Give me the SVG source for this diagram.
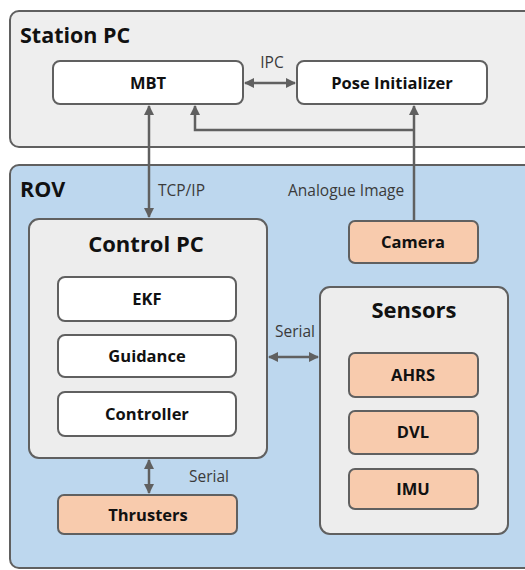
<svg xmlns="http://www.w3.org/2000/svg" width="525" height="570" viewBox="0 0 525 570">
<style>
.grp{stroke:#606060;stroke-width:2}
.box{stroke:#606060;stroke-width:2}
.white{fill:#ffffff}
.gray{fill:#ededed}
.orange{fill:#f8cbad}
.lbl{font-family:"Open Sans","Liberation Sans",sans-serif;font-weight:bold;font-size:16.5px;fill:#111;text-anchor:middle}
.title{font-family:"Open Sans","Liberation Sans",sans-serif;font-weight:bold;font-size:21.5px;fill:#111}
.ctitle{font-family:"Open Sans","Liberation Sans",sans-serif;font-weight:bold;font-size:22px;fill:#111;text-anchor:middle}
.edge{font-family:"Open Sans","Liberation Sans",sans-serif;font-size:15.5px;fill:#3a3a3a}
.conn{stroke:#606060;stroke-width:2.5;fill:none}
</style>
<defs>
<marker id="ah" viewBox="0 0 10 10" refX="9" refY="5" markerWidth="4" markerHeight="4" orient="auto-start-reverse">
<path d="M0,0 L10,5 L0,10 z" fill="#606060"/>
</marker>
</defs>
<g id="station-pc">
<rect class="grp" x="10" y="11" width="530" height="136" rx="9" fill="#eeeeee"/>
<text class="title" x="20" y="43">Station PC</text>
</g>
<g id="rov">
<rect class="grp" x="10" y="165" width="530" height="403" rx="9" fill="#bdd7ee"/>
<text class="title" x="20" y="197">ROV</text>
</g>
<g id="mbt">
<rect class="box white" x="53" y="61" width="190" height="43" rx="7"/>
<text class="lbl" x="148" y="89">MBT</text>
</g>
<g id="pose-initializer">
<rect class="box white" x="297" y="61" width="190" height="43" rx="7"/>
<text class="lbl" x="392" y="89">Pose Initializer</text>
</g>
<g id="control-pc">
<rect class="box gray" x="29" y="219" width="238" height="239" rx="10"/>
<text class="ctitle" x="146" y="252">Control PC</text>
</g>
<g id="ekf">
<rect class="box white" x="58" y="277" width="178" height="44" rx="7"/>
<text class="lbl" x="147" y="305">EKF</text>
</g>
<g id="guidance">
<rect class="box white" x="58" y="335" width="178" height="42" rx="7"/>
<text class="lbl" x="147" y="362">Guidance</text>
</g>
<g id="controller">
<rect class="box white" x="58" y="392" width="178" height="44" rx="7"/>
<text class="lbl" x="147" y="420">Controller</text>
</g>
<g id="thrusters">
<rect class="box orange" x="58" y="495" width="179" height="39" rx="6"/>
<text class="lbl" x="148" y="521">Thrusters</text>
</g>
<g id="camera">
<rect class="box orange" x="349" y="221" width="129" height="42" rx="6"/>
<text class="lbl" x="413" y="248">Camera</text>
</g>
<g id="sensors">
<rect class="box gray" x="320" y="287" width="188" height="247" rx="10"/>
<text class="ctitle" x="414" y="318">Sensors</text>
</g>
<g id="ahrs">
<rect class="box orange" x="349" y="353" width="129" height="44" rx="6"/>
<text class="lbl" x="413" y="381">AHRS</text>
</g>
<g id="dvl">
<rect class="box orange" x="349" y="411" width="129" height="43" rx="6"/>
<text class="lbl" x="413" y="438">DVL</text>
</g>
<g id="imu">
<rect class="box orange" x="349" y="469" width="129" height="40" rx="6"/>
<text class="lbl" x="413" y="495">IMU</text>
</g>
<g id="connectors">
<line class="conn" x1="245" y1="83" x2="295" y2="83" marker-start="url(#ah)" marker-end="url(#ah)"/>
<line class="conn" x1="149" y1="106" x2="149" y2="217" marker-start="url(#ah)" marker-end="url(#ah)"/>
<line class="conn" x1="414" y1="221" x2="414" y2="106" marker-end="url(#ah)"/>
<polyline class="conn" points="414,130 195,130 195,106" marker-end="url(#ah)"/>
<line class="conn" x1="269" y1="357" x2="318" y2="357" marker-start="url(#ah)" marker-end="url(#ah)"/>
<line class="conn" x1="149" y1="460" x2="149" y2="493" marker-start="url(#ah)" marker-end="url(#ah)"/>
<text class="edge" x="272" y="68" text-anchor="middle">IPC</text>
<text class="edge" x="158" y="196">TCP/IP</text>
<text class="edge" x="288" y="196">Analogue Image</text>
<text class="edge" x="275" y="337">Serial</text>
<text class="edge" x="189" y="482">Serial</text>
</g>
</svg>
